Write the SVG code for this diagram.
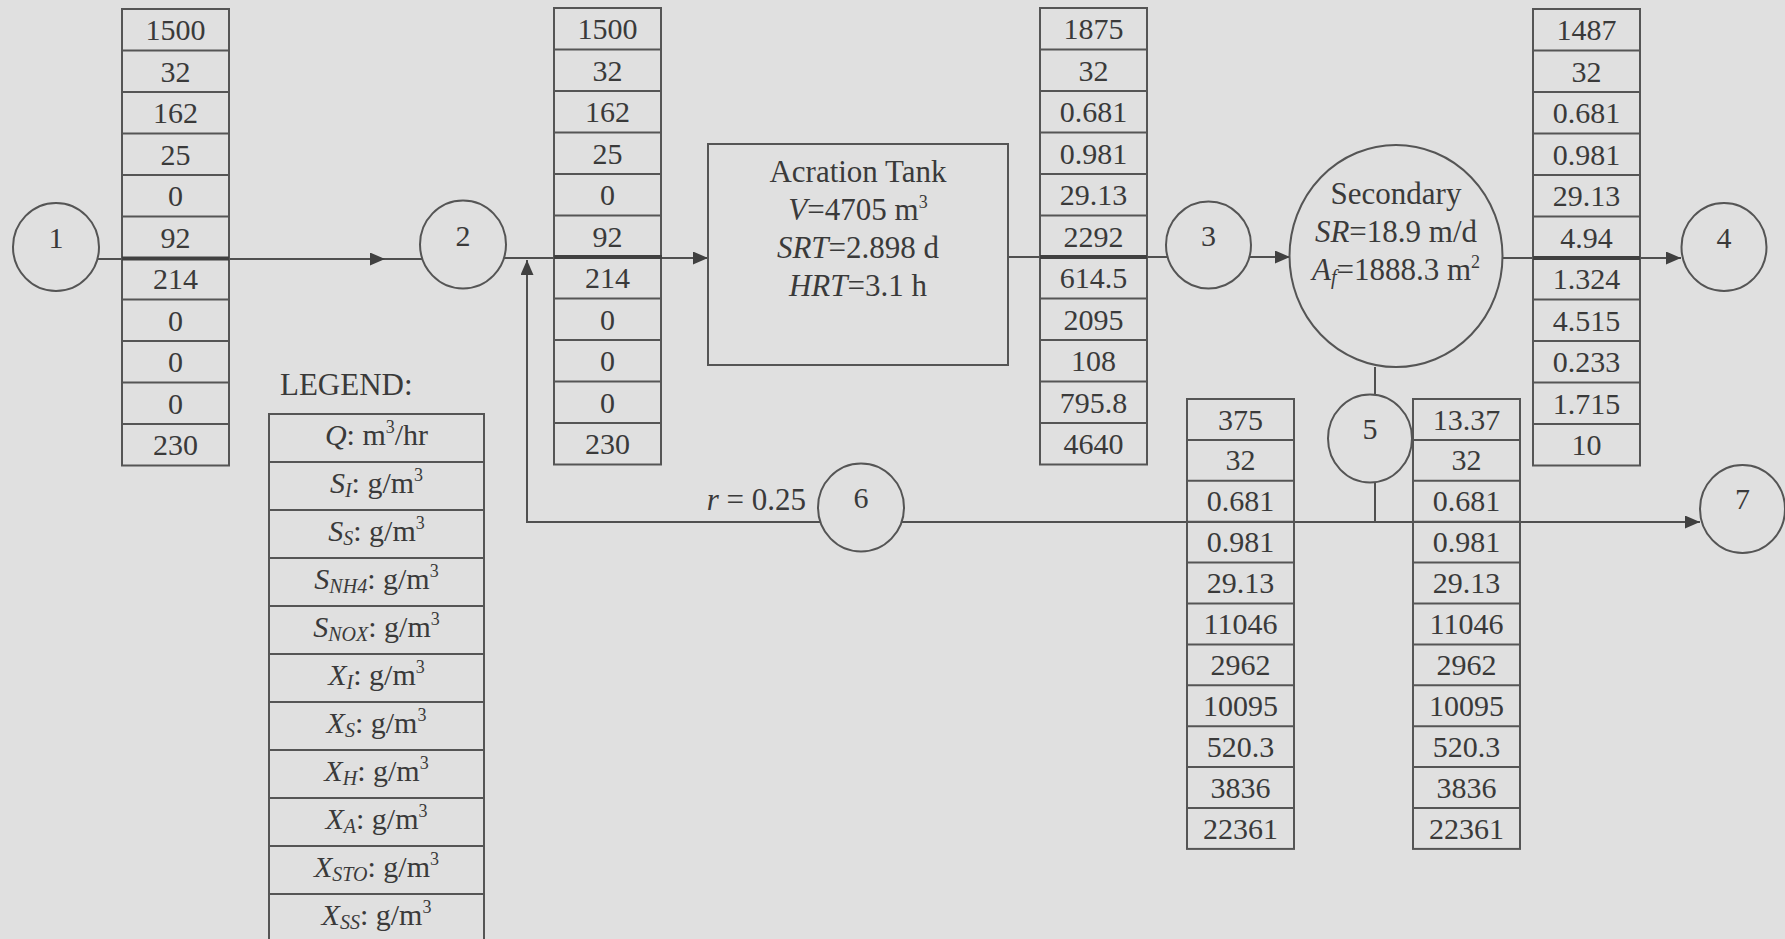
<svg xmlns="http://www.w3.org/2000/svg" xmlns:xlink="http://www.w3.org/1999/xlink" width="1785" height="939" viewBox="0 0 1785 939">
<style>
text{font-family:"Liberation Serif","Times New Roman",serif;fill:#3a3a3a;text-anchor:middle}
.t{font-size:30px}
.lbl{font-size:31px}
.num{font-size:30px}
.i{font-style:italic}
.sb{font-size:20px;font-style:italic}
.sp{font-size:18px}
.ln{fill:none;stroke:#505050;stroke-width:2}
.thick{fill:none;stroke:#404040;stroke-width:4}
.shape{fill:#e0e0e0;stroke:#555;stroke-width:2}
.grid{fill:none;stroke:#555;stroke-width:2}
</style>
<defs>
<marker id="arr" markerUnits="userSpaceOnUse" markerWidth="16" markerHeight="14" refX="15" refY="6.5" orient="auto">
<path d="M0,0 L15,6.5 L0,13 z" fill="#404040"/>
</marker>
<g id="gridA">
<rect x="0" y="0" width="107" height="456.5" class="grid"/>
<path class="grid" d="M0,41.5H107M0,83H107M0,124.5H107M0,166H107M0,207.5H107M0,249H107M0,290.5H107M0,332H107M0,373.5H107M0,415H107"/>
</g>
<g id="gridB">
<rect x="0" y="0" width="107" height="449.9" class="grid"/>
<path class="grid" d="M0,40.9H107M0,81.8H107M0,122.7H107M0,163.6H107M0,204.5H107M0,245.4H107M0,286.3H107M0,327.2H107M0,368.1H107M0,409H107"/>
</g>
</defs>
<rect x="0" y="0" width="1785" height="939" fill="#e0e0e0"/>

<g id="connectors">
<path class="ln" d="M97,259 H385" marker-end="url(#arr)"/>
<path class="ln" d="M385,259 H422"/>
<path class="ln" d="M504,258 H708" marker-end="url(#arr)"/>
<path class="ln" d="M820,522 H527 V260" marker-end="url(#arr)"/>
<path class="ln" d="M1008,257 H1167"/>
<path class="ln" d="M1250,257 H1290" marker-end="url(#arr)"/>
<path class="ln" d="M1503,258 H1681" marker-end="url(#arr)"/>
<path class="ln" d="M1375,367 V395 M1375,482 V522"/>
<path class="ln" d="M902,522 H1700" marker-end="url(#arr)"/>
</g>

<g id="table1" transform="translate(122,9)">
<use xlink:href="#gridA"/>
<text class="t" x="53.5" y="31">1500</text>
<text class="t" x="53.5" y="72.5">32</text>
<text class="t" x="53.5" y="114">162</text>
<text class="t" x="53.5" y="155.5">25</text>
<text class="t" x="53.5" y="197">0</text>
<text class="t" x="53.5" y="238.5">92</text>
<text class="t" x="53.5" y="280">214</text>
<text class="t" x="53.5" y="321.5">0</text>
<text class="t" x="53.5" y="363">0</text>
<text class="t" x="53.5" y="404.5">0</text>
<text class="t" x="53.5" y="446">230</text>
</g>

<g id="table2" transform="translate(554,8)">
<use xlink:href="#gridA"/>
<text class="t" x="53.5" y="31">1500</text>
<text class="t" x="53.5" y="72.5">32</text>
<text class="t" x="53.5" y="114">162</text>
<text class="t" x="53.5" y="155.5">25</text>
<text class="t" x="53.5" y="197">0</text>
<text class="t" x="53.5" y="238.5">92</text>
<text class="t" x="53.5" y="280">214</text>
<text class="t" x="53.5" y="321.5">0</text>
<text class="t" x="53.5" y="363">0</text>
<text class="t" x="53.5" y="404.5">0</text>
<text class="t" x="53.5" y="446">230</text>
</g>

<g id="table3" transform="translate(1040,8)">
<use xlink:href="#gridA"/>
<text class="t" x="53.5" y="31">1875</text>
<text class="t" x="53.5" y="72.5">32</text>
<text class="t" x="53.5" y="114">0.681</text>
<text class="t" x="53.5" y="155.5">0.981</text>
<text class="t" x="53.5" y="197">29.13</text>
<text class="t" x="53.5" y="238.5">2292</text>
<text class="t" x="53.5" y="280">614.5</text>
<text class="t" x="53.5" y="321.5">2095</text>
<text class="t" x="53.5" y="363">108</text>
<text class="t" x="53.5" y="404.5">795.8</text>
<text class="t" x="53.5" y="446">4640</text>
</g>

<g id="table4" transform="translate(1533,9)">
<use xlink:href="#gridA"/>
<text class="t" x="53.5" y="31">1487</text>
<text class="t" x="53.5" y="72.5">32</text>
<text class="t" x="53.5" y="114">0.681</text>
<text class="t" x="53.5" y="155.5">0.981</text>
<text class="t" x="53.5" y="197">29.13</text>
<text class="t" x="53.5" y="238.5">4.94</text>
<text class="t" x="53.5" y="280">1.324</text>
<text class="t" x="53.5" y="321.5">4.515</text>
<text class="t" x="53.5" y="363">0.233</text>
<text class="t" x="53.5" y="404.5">1.715</text>
<text class="t" x="53.5" y="446">10</text>
</g>

<g id="table5" transform="translate(1187,399)">
<use xlink:href="#gridB"/>
<text class="t" x="53.5" y="30.5">375</text>
<text class="t" x="53.5" y="71.4">32</text>
<text class="t" x="53.5" y="112.3">0.681</text>
<text class="t" x="53.5" y="153.2">0.981</text>
<text class="t" x="53.5" y="194.1">29.13</text>
<text class="t" x="53.5" y="235">11046</text>
<text class="t" x="53.5" y="275.9">2962</text>
<text class="t" x="53.5" y="316.8">10095</text>
<text class="t" x="53.5" y="357.7">520.3</text>
<text class="t" x="53.5" y="398.6">3836</text>
<text class="t" x="53.5" y="439.5">22361</text>
</g>

<g id="table6" transform="translate(1413,399)">
<use xlink:href="#gridB"/>
<text class="t" x="53.5" y="30.5">13.37</text>
<text class="t" x="53.5" y="71.4">32</text>
<text class="t" x="53.5" y="112.3">0.681</text>
<text class="t" x="53.5" y="153.2">0.981</text>
<text class="t" x="53.5" y="194.1">29.13</text>
<text class="t" x="53.5" y="235">11046</text>
<text class="t" x="53.5" y="275.9">2962</text>
<text class="t" x="53.5" y="316.8">10095</text>
<text class="t" x="53.5" y="357.7">520.3</text>
<text class="t" x="53.5" y="398.6">3836</text>
<text class="t" x="53.5" y="439.5">22361</text>
</g>

<g id="flow-bars">
<path class="thick" d="M122,258.5 H229 M554,257 H662 M1040,257 H1147 M1533,258 H1640"/>
</g>

<g id="node1"><ellipse class="shape" cx="56" cy="247" rx="43" ry="44"/><text class="num" x="56" y="248">1</text></g>
<g id="node2"><ellipse class="shape" cx="463" cy="244.5" rx="43" ry="44"/><text class="num" x="463" y="245.5">2</text></g>
<g id="node3"><ellipse class="shape" cx="1208.5" cy="245" rx="42.5" ry="43.5"/><text class="num" x="1208.5" y="246">3</text></g>
<g id="node4"><ellipse class="shape" cx="1724" cy="247" rx="42.5" ry="44"/><text class="num" x="1724" y="248">4</text></g>
<g id="node5"><ellipse class="shape" cx="1370" cy="438.5" rx="42" ry="44"/><text class="num" x="1370" y="439">5</text></g>
<g id="node6"><ellipse class="shape" cx="861" cy="507.5" rx="43" ry="44"/><text class="num" x="861" y="508">6</text></g>
<g id="node7"><ellipse class="shape" cx="1742.5" cy="509" rx="42.5" ry="44"/><text class="num" x="1742.5" y="509">7</text></g>

<g id="aeration-tank">
<rect class="shape" x="708" y="144" width="300" height="221"/>
<text class="lbl" x="858" y="182">Acration Tank</text>
<text class="lbl" x="858" y="220"><tspan class="i">V</tspan>=4705 m<tspan class="sp" dy="-12">3</tspan></text>
<text class="lbl" x="858" y="258"><tspan class="i">SRT</tspan>=2.898 d</text>
<text class="lbl" x="858" y="296"><tspan class="i">HRT</tspan>=3.1 h</text>
</g>

<g id="secondary">
<ellipse class="shape" cx="1396" cy="256" rx="106.5" ry="111"/>
<text class="lbl" x="1396" y="204">Secondary</text>
<text class="lbl" x="1396" y="242"><tspan class="i">SR</tspan>=18.9 m/d</text>
<text class="lbl" x="1396" y="280"><tspan class="i">A</tspan><tspan class="sb" dy="4">f</tspan><tspan dy="-4">=1888.3 m</tspan><tspan class="sp" dy="-12">2</tspan></text>
</g>

<g id="recycle-label">
<text class="lbl" x="806" y="510" style="text-anchor:end"><tspan class="i">r</tspan> = 0.25</text>
</g>

<g id="legend">
<text class="lbl" x="280" y="395" style="text-anchor:start">LEGEND:</text>
<rect class="grid" x="269" y="414" width="215" height="528"/>
<path class="grid" d="M269,462H484M269,510H484M269,558H484M269,606H484M269,654H484M269,702H484M269,750H484M269,798H484M269,846H484M269,894H484"/>
<text class="t" x="376.5" y="445"><tspan class="i">Q</tspan>: m<tspan class="sp" dy="-12">3</tspan><tspan dy="12">/hr</tspan></text>
<text class="t" x="376.5" y="493"><tspan class="i">S</tspan><tspan class="sb" dy="4">I</tspan><tspan dy="-4">: g/m</tspan><tspan class="sp" dy="-12">3</tspan></text>
<text class="t" x="376.5" y="541"><tspan class="i">S</tspan><tspan class="sb" dy="4">S</tspan><tspan dy="-4">: g/m</tspan><tspan class="sp" dy="-12">3</tspan></text>
<text class="t" x="376.5" y="589"><tspan class="i">S</tspan><tspan class="sb" dy="4">NH4</tspan><tspan dy="-4">: g/m</tspan><tspan class="sp" dy="-12">3</tspan></text>
<text class="t" x="376.5" y="637"><tspan class="i">S</tspan><tspan class="sb" dy="4">NOX</tspan><tspan dy="-4">: g/m</tspan><tspan class="sp" dy="-12">3</tspan></text>
<text class="t" x="376.5" y="685"><tspan class="i">X</tspan><tspan class="sb" dy="4">I</tspan><tspan dy="-4">: g/m</tspan><tspan class="sp" dy="-12">3</tspan></text>
<text class="t" x="376.5" y="733"><tspan class="i">X</tspan><tspan class="sb" dy="4">S</tspan><tspan dy="-4">: g/m</tspan><tspan class="sp" dy="-12">3</tspan></text>
<text class="t" x="376.5" y="781"><tspan class="i">X</tspan><tspan class="sb" dy="4">H</tspan><tspan dy="-4">: g/m</tspan><tspan class="sp" dy="-12">3</tspan></text>
<text class="t" x="376.5" y="829"><tspan class="i">X</tspan><tspan class="sb" dy="4">A</tspan><tspan dy="-4">: g/m</tspan><tspan class="sp" dy="-12">3</tspan></text>
<text class="t" x="376.5" y="877"><tspan class="i">X</tspan><tspan class="sb" dy="4">STO</tspan><tspan dy="-4">: g/m</tspan><tspan class="sp" dy="-12">3</tspan></text>
<text class="t" x="376.5" y="925"><tspan class="i">X</tspan><tspan class="sb" dy="4">SS</tspan><tspan dy="-4">: g/m</tspan><tspan class="sp" dy="-12">3</tspan></text>
</g>
</svg>
